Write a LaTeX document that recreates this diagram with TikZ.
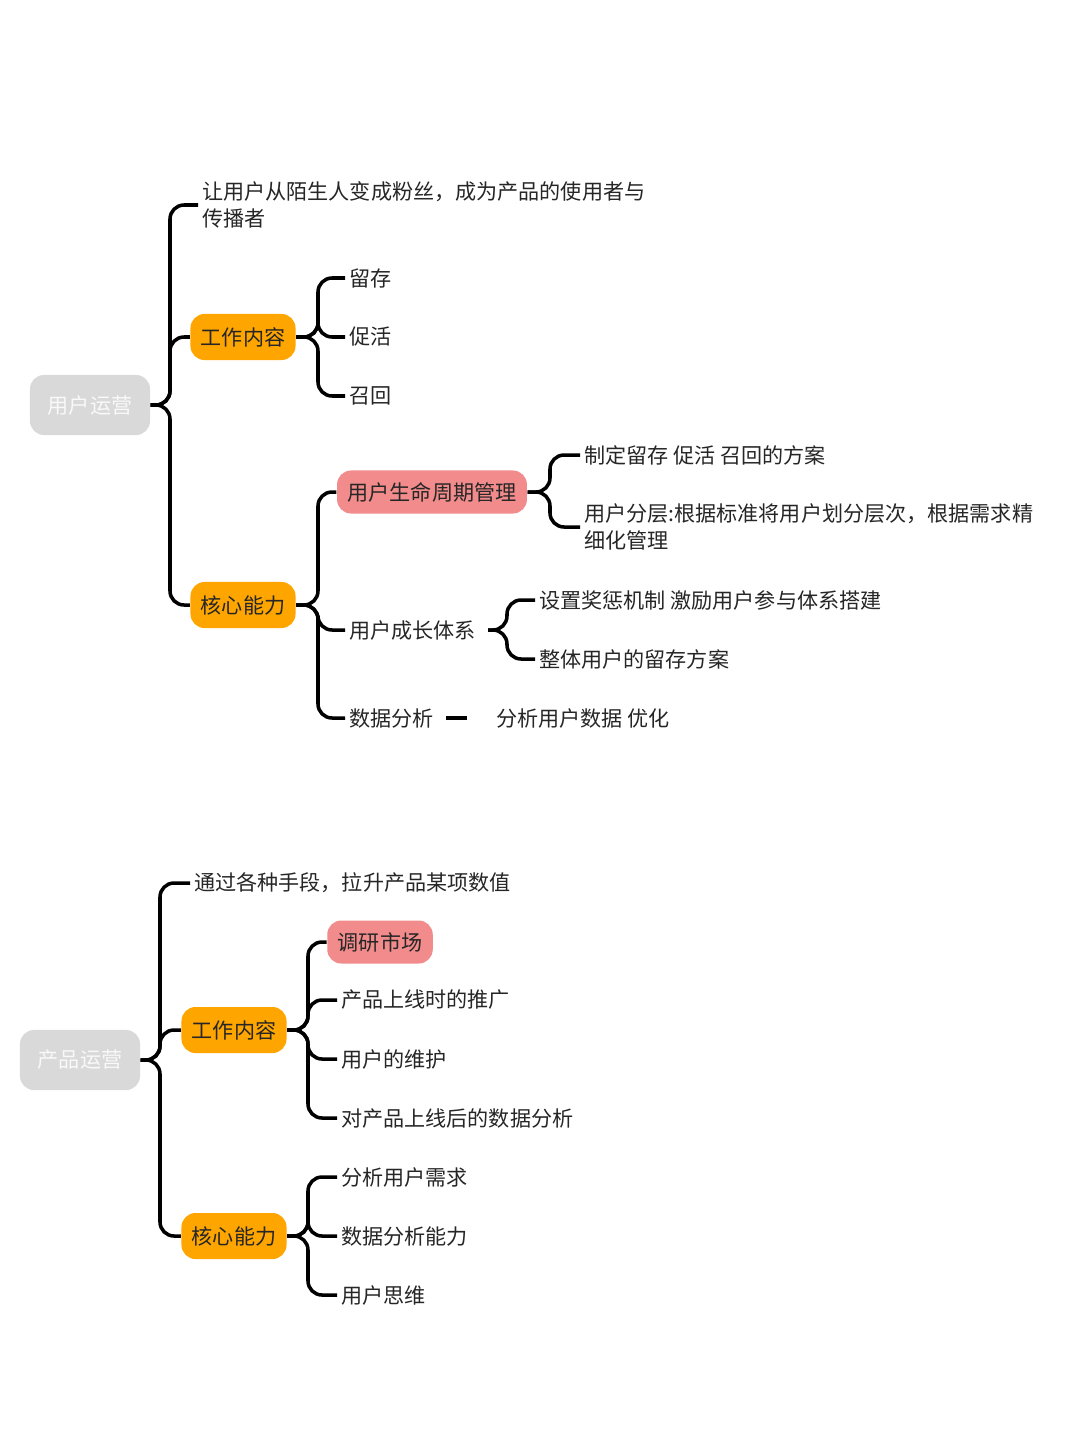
\documentclass[tikz,border=0pt]{standalone}
\usepackage{fontspec}
\newfontfamily\cjk{Noto Sans CJK SC}
\usetikzlibrary{positioning}
\definecolor{orng}{HTML}{FFA500}
\definecolor{pinkb}{HTML}{F28B8B}
\definecolor{grayb}{HTML}{D9D9D9}
\tikzset{
  txt/.style={font=\cjk\fontsize{6}{7.6}\selectfont, text=black!85, inner sep=1pt},
  leaf/.style={txt, anchor=west, align=left},
  rootbox/.style={txt, fill=grayb, text=white!95!gray, rounded corners=4pt, minimum width=1.2cm, minimum height=0.6cm},
  orbox/.style={txt, fill=orng, rounded corners=4pt, minimum width=1.05cm, minimum height=0.46cm},
  pkbox/.style={txt, fill=pinkb, rounded corners=4pt, minimum height=0.43cm, inner xsep=3pt},
  br/.style={line width=1pt, rounded corners=4pt}
}
\begin{document}
\begin{tikzpicture}[x=0.01cm,y=-0.01cm]
  \useasboundingbox[fill=white] (0,0) rectangle (1080,1439);
  % user operations
  \node[rootbox] (uroot) at (90,405) {用户运营};
  \node[leaf] (udef) at (198,205) {让用户从陌生人变成粉丝，成为产品的使用者与\\传播者};
  \node[orbox] (uwork) at (243,337) {工作内容};
  \node[orbox] (ucore) at (243,605) {核心能力};
  \node[leaf] (keep) at (345,278) {留存};
  \node[leaf] (act) at (345,337) {促活};
  \node[leaf] (back) at (345,396) {召回};
  \node[pkbox] (life) at (432,492) {用户生命周期管理};
  \node[leaf] (grow) at (345,630) {用户成长体系};
  \node[leaf] (data) at (345,718) {数据分析};
  \node[leaf] (plan) at (580,455) {制定留存 促活 召回的方案};
  \node[leaf] (layer) at (580,527) {用户分层:根据标准将用户划分层次，根据需求精\\细化管理};
  \node[leaf] (reward) at (535,600) {设置奖惩机制 激励用户参与体系搭建};
  \node[leaf] (whole) at (535,659) {整体用户的留存方案};
  \node[leaf] (opt) at (492,718) {分析用户数据 优化};
  \foreach \c in {udef,uwork,ucore}
    \draw[br] (uroot.east) -- (170,405) |- (\c.west);
  \foreach \c in {keep,act,back}
    \draw[br] (uwork.east) -- (318,337) |- (\c.west);
  \foreach \c in {life,grow,data}
    \draw[br] (ucore.east) -- (318,605) |- (\c.west);
  \foreach \c in {plan,layer}
    \draw[br] (life.east) -- (550,492) |- (\c.west);
  \foreach \c in {reward,whole}
    \draw[br] (grow.east) ++(8,0) -- (507,630) |- (\c.west);
  \draw[br] (data.east) ++(8,0) -- ([xshift=-7]opt.west);
  % product operations
  \node[rootbox] (proot) at (80,1060) {产品运营};
  \node[leaf] (pdef) at (190,883) {通过各种手段，拉升产品某项数值};
  \node[orbox] (pwork) at (234,1030) {工作内容};
  \node[orbox] (pcore) at (234,1236) {核心能力};
  \node[pkbox] (market) at (380,942) {调研市场};
  \node[leaf] (promo) at (337,1000) {产品上线时的推广};
  \node[leaf] (maint) at (337,1059) {用户的维护};
  \node[leaf] (after) at (337,1118) {对产品上线后的数据分析};
  \node[leaf] (need) at (337,1177) {分析用户需求};
  \node[leaf] (skill) at (337,1236) {数据分析能力};
  \node[leaf] (think) at (337,1295) {用户思维};
  \foreach \c in {pdef,pwork,pcore}
    \draw[br] (proot.east) -- (160,1060) |- (\c.west);
  \foreach \c in {market,promo,maint,after}
    \draw[br] (pwork.east) -- (308,1030) |- (\c.west);
  \foreach \c in {need,skill,think}
    \draw[br] (pcore.east) -- (308,1236) |- (\c.west);
\end{tikzpicture}
\end{document}
